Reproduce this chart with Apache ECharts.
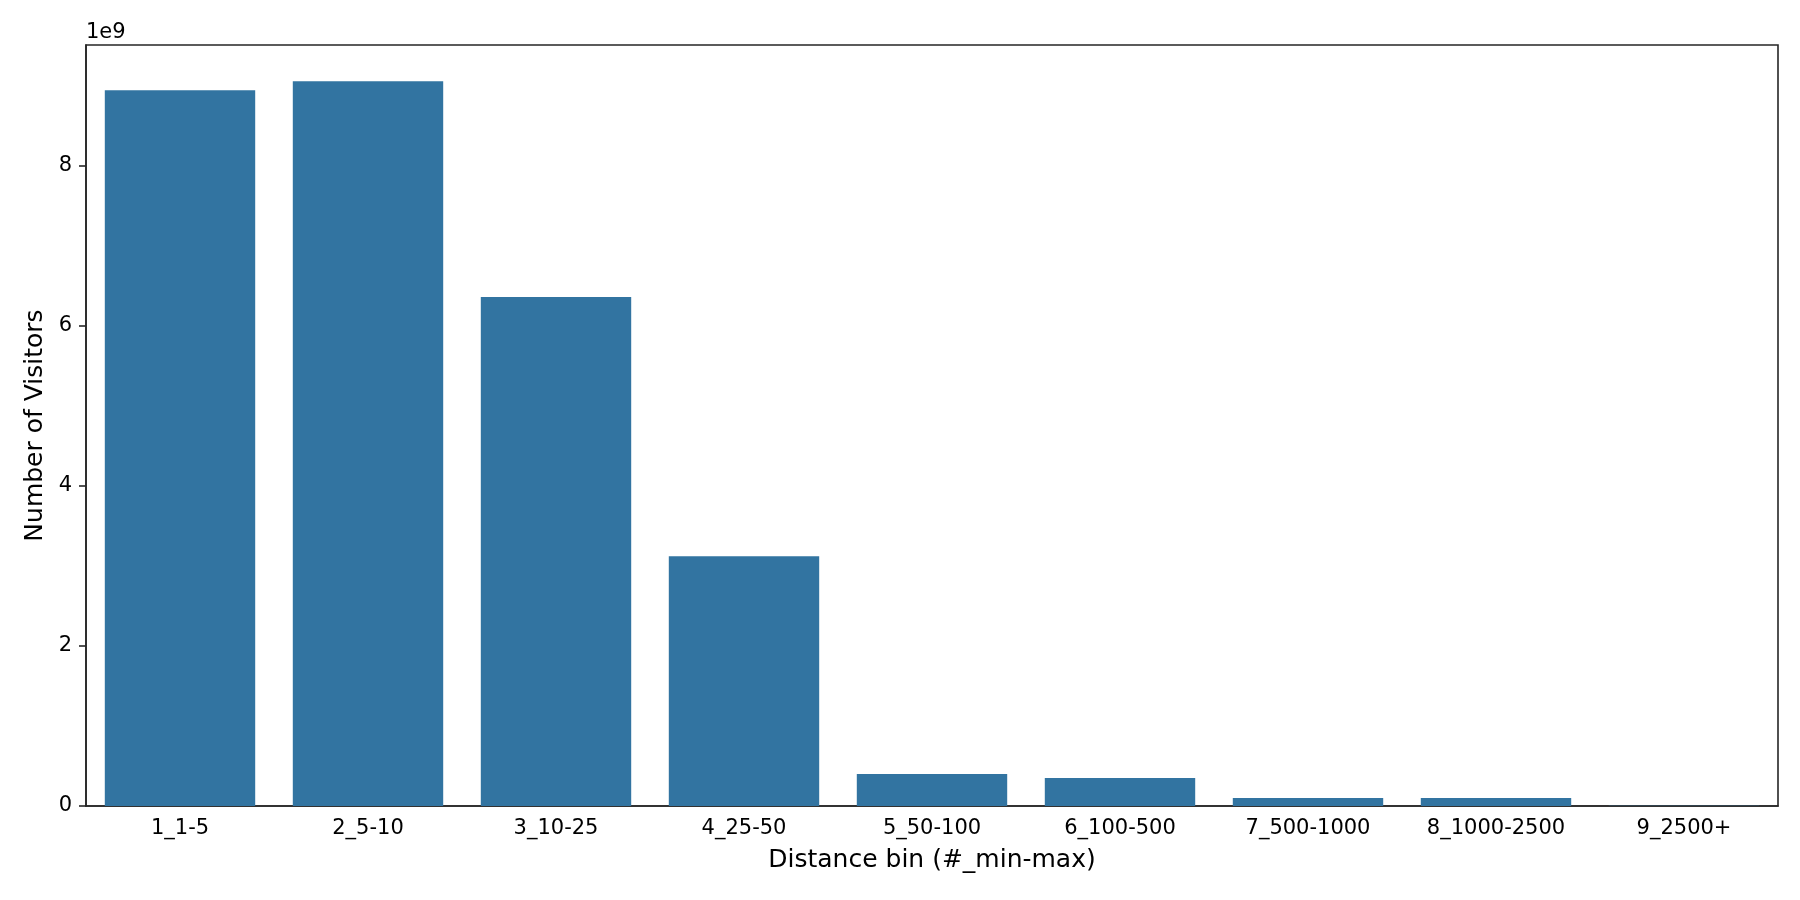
<!DOCTYPE html>
<html>
<head>
<meta charset="utf-8">
<script src="https://cdn.jsdelivr.net/npm/echarts@6/dist/echarts.min.js"></script>
<style>html,body{margin:0;padding:0;background:#fff}#c{width:1800px;height:900px}</style>
</head>
<body>
<div id="c"></div>
<script>
const categories = ["1_1-5","2_5-10","3_10-25","4_25-50","5_50-100","6_100-500","7_500-1000","8_1000-2500","9_2500+"];
const visitors = [8.946e9, 9.058e9, 6.36e9, 3.12e9, 0.40e9, 0.35e9, 0.10e9, 0.10e9, 0.004e9];
const yTicks = [0, 2e9, 4e9, 6e9, 8e9];

const FONT = "DejaVu Sans";
const INK = "#262626";
const chart = echarts.init(document.getElementById('c'));
const yMax = Math.max(...visitors) * 1.05;
chart.setOption({
  animation: false,
  grid: {left: 86, right: 22, top: 45, bottom: 94, show: true, borderColor: INK, borderWidth: 1.6, backgroundColor: 'transparent'},
  graphic: [{type: 'text', left: 86, top: 22, style: {text: '1e9', font: '21px "DejaVu Sans"', fill: '#000'}}],
  xAxis: {
    type: 'category', data: categories,
    axisLine: {lineStyle: {color: INK, width: 1.6}},
    axisTick: {alignWithLabel: true, length: 7, lineStyle: {color: INK, width: 1.6}},
    axisLabel: {color: '#000', fontFamily: FONT, fontSize: 21, margin: 12},
    name: 'Distance bin (#_min-max)', nameLocation: 'middle', nameGap: 42,
    nameTextStyle: {color: '#000', fontFamily: FONT, fontSize: 25}
  },
  yAxis: {
    type: 'value', min: 0, max: yMax,
    splitLine: {show: false},
    axisLine: {show: true, lineStyle: {color: INK, width: 1.6}},
    axisTick: {show: true, length: 7, customValues: yTicks, lineStyle: {color: INK, width: 1.6}},
    axisLabel: {color: '#000', fontFamily: FONT, fontSize: 21, margin: 14, customValues: yTicks,
      formatter: v => String(v / 1e9)},
    name: 'Number of Visitors', nameLocation: 'middle', nameGap: 38,
    nameTextStyle: {color: '#000', fontFamily: FONT, fontSize: 25}
  },
  series: [{type: 'bar', data: visitors, barCategoryGap: '20%', itemStyle: {color: '#3274a1'}}]
});
</script>
</body>
</html>
